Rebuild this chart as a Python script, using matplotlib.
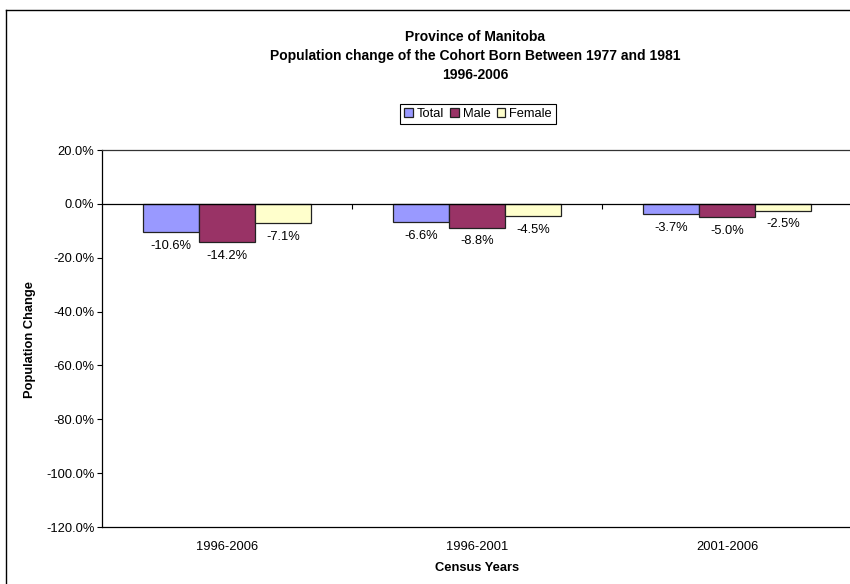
import numpy as np
import matplotlib.pyplot as plt
from matplotlib.lines import Line2D

plt.rcParams['font.family'] = ['Liberation Sans', 'DejaVu Sans']

# data
years = ['1996-2006', '1996-2001', '2001-2006']
total = [-10.6, -6.6, -3.7]
male = [-14.2, -8.8, -5.0]
female = [-7.1, -4.5, -2.5]
series = ['Total', 'Male', 'Female']
colors = ['#9999FF', '#993366', '#FFFFCC']

W, H = 850, 584
fs = 9.3
fig = plt.figure(figsize=(W / 100, H / 100), dpi=100)
ax = fig.add_axes([102 / W, 1 - 527 / H, 750 / W, 377 / H])

x = np.arange(len(years))
bw = 0.224
for i, (name, vals, c) in enumerate(zip(series, [total, male, female], colors)):
    pos = x + (i - 1) * bw
    ax.bar(pos, vals, bw, color=c, edgecolor='#222222', linewidth=0.9, label=name, zorder=2)
    for px, v in zip(pos, vals):
        ax.annotate('%.1f%%' % v, (px, v), xytext=(0, -10), textcoords='offset points',
                    ha='center', va='center', fontsize=fs)

ax.set_xlim(-0.5, len(years) - 0.5)
ax.set_ylim(-120, 20)
ax.set_yticks(np.arange(-120, 21, 20))
ax.set_yticklabels(['%.1f%%' % t for t in np.arange(-120, 21, 20)])
ax.set_xticks(x)
ax.set_xticklabels(years)
ax.tick_params(axis='x', length=0, pad=10, labelsize=fs)
ax.tick_params(axis='y', length=3.5, width=0.8, pad=2, labelsize=fs)

# zero line with category separators
ax.axhline(0, color='black', lw=0.9, zorder=3)
ax.vlines(x[:-1] + 0.5, -2, 0, color='black', lw=0.8, zorder=3)

for s in ax.spines.values():
    s.set_linewidth(0.9)
    s.set_color('black')
ax.spines['top'].set_color('#333333')

fig.text(30 / W, 1 - 340 / H, 'Population Change', rotation=90, ha='center', va='center',
         fontsize=fs, fontweight='bold')
fig.text(477 / W, 1 - 568 / H, 'Census Years', ha='center', va='center',
         fontsize=fs, fontweight='bold')
fig.text(475 / W, 1 - 56 / H,
         'Province of Manitoba\nPopulation change of the Cohort Born Between 1977 and 1981\n1996-2006',
         ha='center', va='center', fontsize=10, fontweight='bold', linespacing=1.45)

leg = fig.legend(loc='center', bbox_to_anchor=(478 / W, 1 - 114 / H), ncol=3, fontsize=fs,
                 handlelength=0.65, handleheight=0.65, handletextpad=0.3, columnspacing=0.5,
                 borderpad=0.3, fancybox=False, framealpha=1, edgecolor='black')
leg.get_frame().set_linewidth(0.8)

# outer chart border
fig.add_artist(Line2D([6 / W, 6 / W], [0, 1 - 10 / H], color='black', lw=1, transform=fig.transFigure))
fig.add_artist(Line2D([6 / W, 1], [1 - 10 / H, 1 - 10 / H], color='black', lw=1, transform=fig.transFigure))

fig.savefig('out.png', dpi=100)
